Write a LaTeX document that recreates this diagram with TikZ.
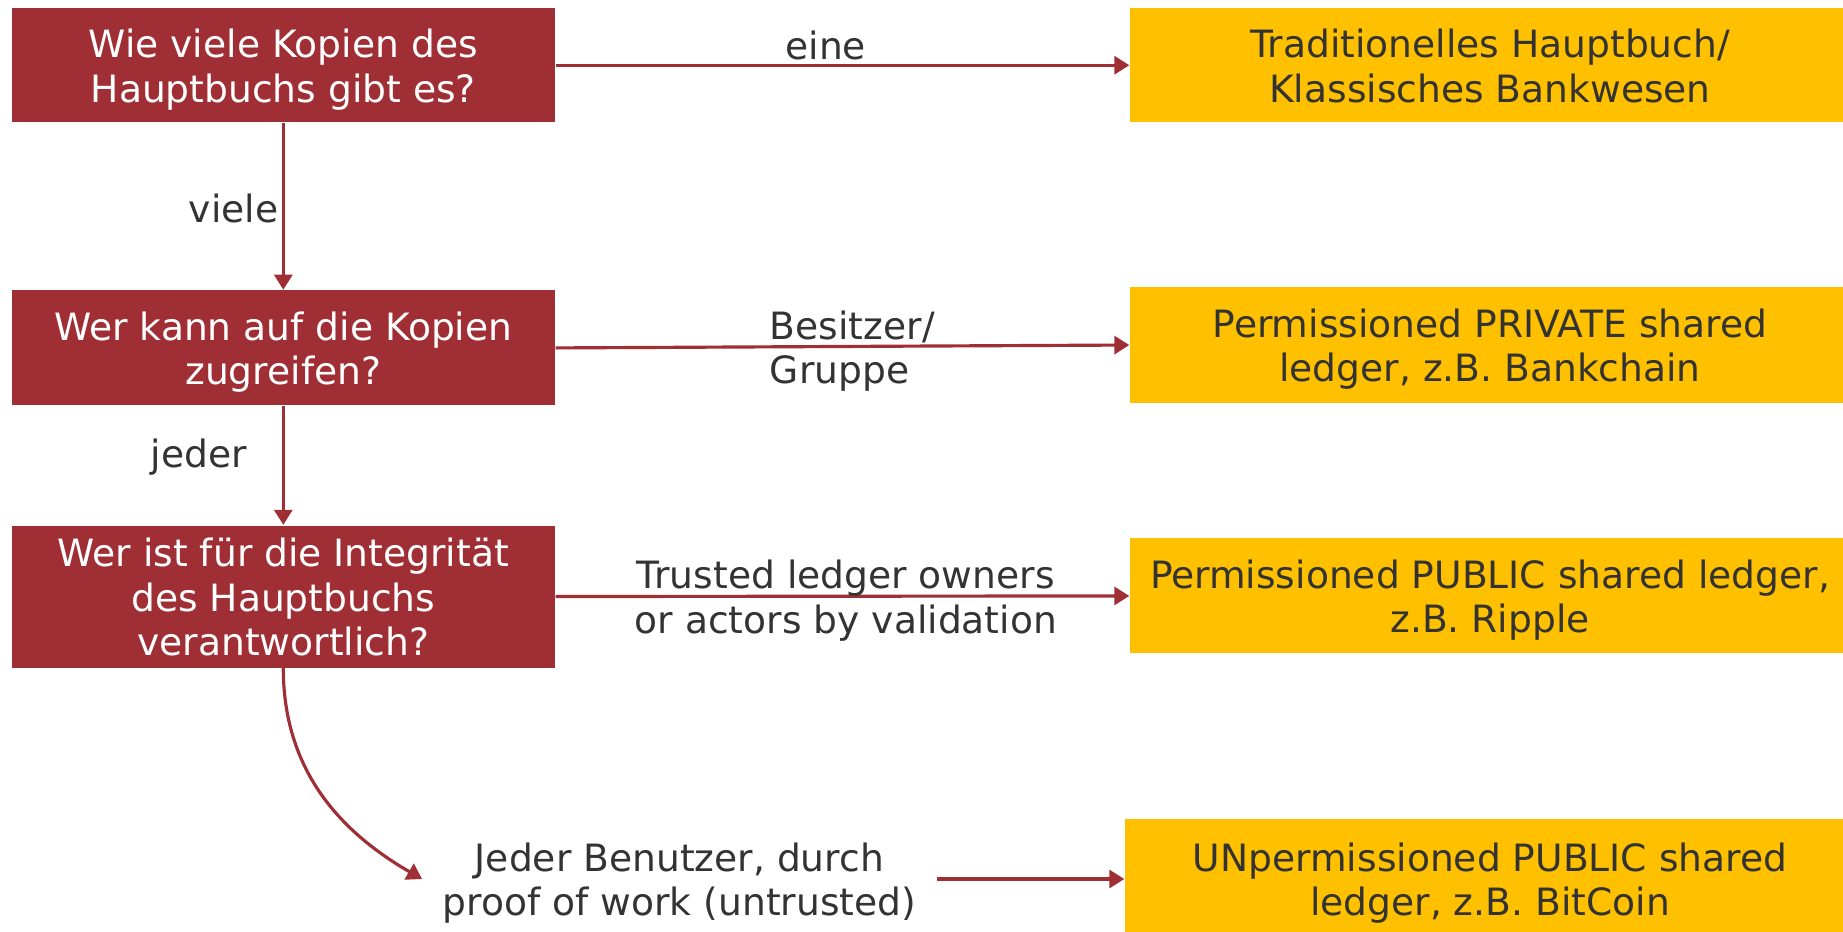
\documentclass[tikz,border=0pt]{standalone}
\usepackage{fontspec}
\setmainfont{DejaVu Sans}
\usetikzlibrary{arrows.meta}
\definecolor{boxred}{RGB}{160,46,53}
\definecolor{boxyellow}{RGB}{255,192,0}
\definecolor{textgray}{RGB}{51,51,51}
\begin{document}
\begin{tikzpicture}[
    font=\fontsize{10.7}{12.7}\selectfont,
    question/.style={fill=boxred, text=white, align=center, minimum width=5.43cm, inner sep=0pt},
    result/.style={fill=boxyellow, text=textgray, align=center, minimum width=7.2cm, inner sep=0pt},
    twolines/.style={text height=23.2pt, text depth=2.2pt},
    threelines/.style={text height=35.9pt, text depth=2.2pt},
    conn/.style={draw=boxred, line width=0.9pt, -{Triangle[length=1.5mm, width=1.8mm]}},
    lbl/.style={text=textgray, inner sep=0pt}
]
\useasboundingbox (0,0) rectangle (18.43,-9.31);

% --- questions (left column) ---
\node[question, twolines, minimum height=1.14cm] (q1) at (2.833,-0.652) {Wie viele Kopien des\\Hauptbuchs gibt es?};
\node[question, twolines, minimum height=1.15cm] (q2) at (2.833,-3.479) {Wer kann auf die Kopien\\zugreifen?};
\node[question, threelines, minimum height=1.42cm] (q3) at (2.833,-5.965) {Wer ist für die Integrität\\des Hauptbuchs\\verantwortlich?};
\node[lbl, twolines, align=center, inner sep=0.2cm] (user) at (6.794,-8.79) {Jeder Benutzer, durch\\proof of work (untrusted)};

% --- results (right column) ---
\node[result, twolines, minimum height=1.14cm] (r1) at (14.9,-0.652) {Traditionelles Hauptbuch/\\Klassisches Bankwesen};
\node[result, twolines, minimum height=1.16cm] (r2) at (14.9,-3.45) {Permissioned PRIVATE shared\\ledger, z.B. Bankchain};
\node[result, twolines, minimum height=1.15cm] (r3) at (14.9,-5.959) {Permissioned PUBLIC shared ledger,\\z.B. Ripple};
\node[result, twolines, minimum height=1.2cm, minimum width=7.3cm] (r4) at (14.9,-8.79) {UNpermissioned PUBLIC shared\\ledger, z.B. BitCoin};

% --- connectors ---
\draw[conn] (q1.east) -- node[lbl, above, pos=0.471, inner sep=1pt] (lEine) {eine} (r1.west);
\draw[conn] (q2.east) -- node[lbl, twolines, anchor=west, align=left, pos=0.371] (lBesitzer) {Besitzer/\\Gruppe} (r2.west);
\draw[conn] (q3.east) -- node[lbl, twolines, align=center, pos=0.506] (lTrusted) {Trusted ledger owners\\or actors by validation} (r3.west);
\draw[conn] (q1.south) -- node[lbl, left, pos=0.51, inner sep=1pt] (lViele) {viele} (q2.north);
\draw[conn] (q2.south) -- node[lbl, left=0.35cm, pos=0.43] (lJeder) {jeder} (q3.north);
\draw[conn] (q3.south) to[out=-90, in=150] (user.west);
\draw[conn] (user.east) -- (r4.west);

\end{tikzpicture}
\end{document}
